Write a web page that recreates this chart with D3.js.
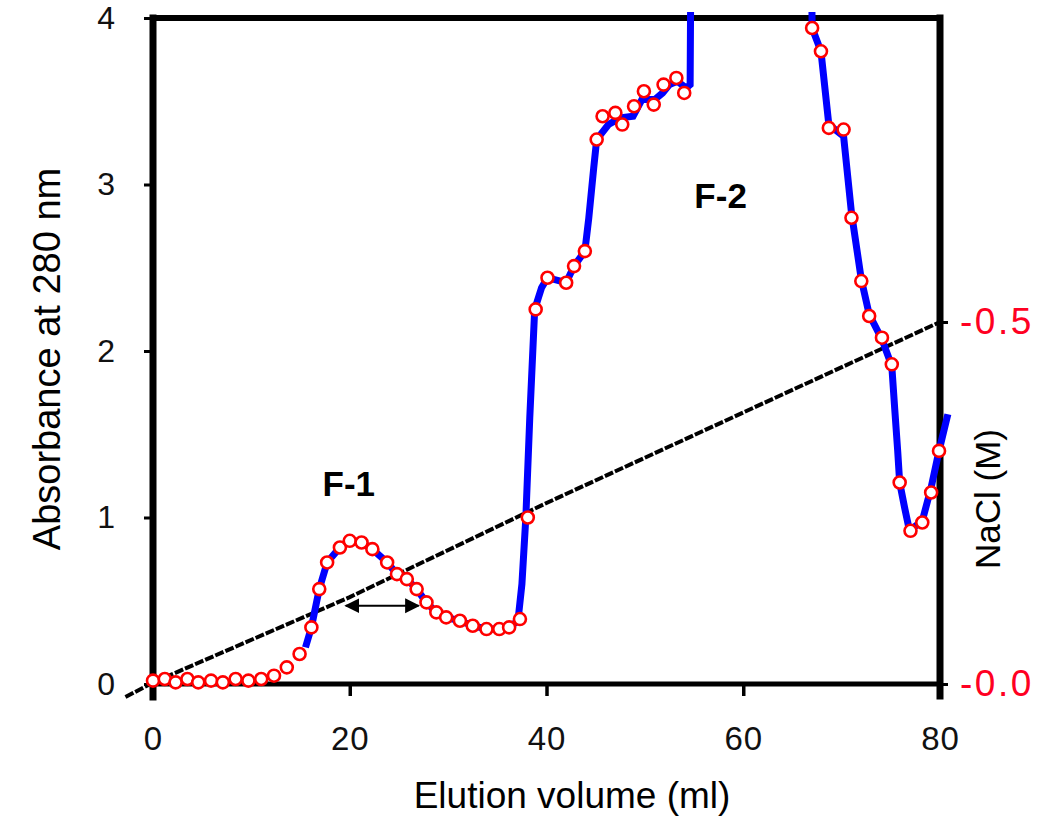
<!DOCTYPE html>
<html>
<head>
<meta charset="utf-8">
<script src="https://cdn.jsdelivr.net/npm/d3@7"></script>
<style>
  html, body { margin: 0; padding: 0; background: #fff; }
  svg { display: block; font-family: "Liberation Sans", Arial, sans-serif; }
</style>
</head>
<body>
<svg id="chart" width="1044" height="818"></svg>
<script>
// ---- data ----
const xTicks = [0, 20, 40, 60, 80];
const yTicks = [0, 1, 2, 3, 4];
const naclTicks = [0, 0.5];
const naclTickLabels = ["-0.0", "-0.5"];

// red circle markers: elution volume (ml) and absorbance
const circleVol = [0.0, 1.2, 2.3, 3.5, 4.6, 5.9, 7.1, 8.4, 9.7, 11.0, 12.3, 13.6, 14.9,
  16.1, 16.9, 17.7, 19.0, 20.0, 21.2, 22.3, 23.8, 24.8, 25.8, 26.8, 27.8, 28.8, 29.8,
  31.2, 32.5, 33.9, 35.2, 36.2, 37.3, 38.1, 38.9, 40.1, 42.0, 42.8, 43.9, 45.1, 45.7,
  47.0, 47.7, 48.9, 49.9, 50.9, 51.9, 53.2, 54.0,
  67.0, 67.9, 68.7, 70.2, 71.0, 72.0, 72.8, 74.1, 75.1, 75.9, 77.0, 78.2, 79.1, 79.9];
const circleAbs = [0.02, 0.03, 0.01, 0.03, 0.01, 0.02, 0.01, 0.03, 0.02, 0.03, 0.05, 0.10, 0.18,
  0.34, 0.57, 0.73, 0.82, 0.86, 0.85, 0.81, 0.73, 0.66, 0.63, 0.57, 0.49, 0.43, 0.40,
  0.38, 0.35, 0.33, 0.33, 0.34, 0.39, 1.00, 2.25, 2.44, 2.41, 2.51, 2.60, 3.27, 3.41,
  3.43, 3.36, 3.47, 3.56, 3.48, 3.60, 3.64, 3.55,
  3.94, 3.80, 3.34, 3.33, 2.80, 2.42, 2.21, 2.08, 1.92, 1.21, 0.92, 0.97, 1.15, 1.40];

// blue absorbance trace (values above 4 run off the top of the frame)
const lineVol = [15.5, 16.1, 16.9, 17.7, 19.0, 20.0, 21.2, 22.3, 23.8, 24.8, 25.8, 26.8,
  27.8, 28.8, 29.8, 31.2, 32.5, 33.9, 35.2, 36.2, 37.1, 37.5, 37.9, 38.3, 38.8, 39.5,
  40.1, 42.0, 42.8, 43.9, 44.3, 44.8, 45.1, 46.3, 47.5, 48.8, 49.7, 51.0, 51.8, 52.5,
  53.3, 54.2, 54.6, 54.7, 66.9, 67.0, 67.9, 68.7, 70.2, 71.0, 72.0, 72.8, 74.1, 75.1,
  75.4, 75.7, 75.9, 76.4, 76.9, 78.2, 79.1, 79.9, 80.8];
const lineAbs = [0.22, 0.34, 0.57, 0.73, 0.82, 0.86, 0.85, 0.81, 0.73, 0.66, 0.63, 0.57,
  0.49, 0.43, 0.40, 0.38, 0.35, 0.33, 0.33, 0.34, 0.38, 0.60, 1.00, 1.60, 2.25, 2.38,
  2.44, 2.41, 2.51, 2.60, 2.80, 3.10, 3.27, 3.36, 3.40, 3.41, 3.51, 3.51, 3.55, 3.60,
  3.62, 3.58, 3.60, 4.60, 4.60, 3.94, 3.80, 3.36, 3.29, 2.83, 2.43, 2.22, 2.07, 1.91,
  1.65, 1.40, 1.21, 1.06, 0.92, 0.98, 1.18, 1.40, 1.62];

// NaCl gradient (M)
const naclVol = [-2.8, 0, 20, 40, 60, 80];
const naclConc = [-0.018, 0.002, 0.12, 0.25, 0.375, 0.5];

// annotations
const arrowVol = [19.6, 27.0];
const arrowAbs = 0.47;
const peakLabels = ["F-1", "F-2"];
const peakLabelVol = [19.9, 57.7];
const peakLabelAbs = [1.13, 2.86];

// ---- scales ----
const x = d3.scaleLinear().domain([0, 80]).range([153, 940]);
const y = d3.scaleLinear().domain([0, 4]).range([684, 18]);
const yR = d3.scaleLinear().domain([0, 0.5]).range([684, 322]);

const svg = d3.select("#chart");
const FONT = "'Liberation Sans', Arial, sans-serif";

// clip for off-scale trace
const defs = svg.append("defs");
defs.append("clipPath").attr("id", "clipTop")
  .append("rect").attr("x", 0).attr("y", y(4) - 6).attr("width", 1044).attr("height", 818);

// arrow markers
["arrEnd", "arrStart"].forEach((id, i) => {
  defs.append("marker").attr("id", id)
    .attr("viewBox", "0 0 10 10").attr("refX", i === 0 ? 9 : 1).attr("refY", 5)
    .attr("markerWidth", 7.5).attr("markerHeight", 8).attr("markerUnits", "strokeWidth")
    .attr("orient", "auto")
    .append("path")
    .attr("d", i === 0 ? "M0,0 L10,5 L0,10 Z" : "M10,0 L0,5 L10,10 Z")
    .attr("fill", "#000");
});

// ---- axes ----
const axisL = d3.axisLeft(y).tickValues(yTicks).tickSize(9).tickSizeOuter(0).tickPadding(29)
  .tickFormat(d3.format("d"));
const gL = svg.append("g").attr("transform", `translate(${x(0)},0)`).call(axisL);
gL.select(".domain").remove();
gL.selectAll(".tick line").attr("stroke", "#000").attr("stroke-width", 3);
gL.selectAll(".tick text").attr("font-size", 32).attr("fill", "#111").attr("font-family", FONT);

const axisB = d3.axisBottom(x).tickValues(xTicks).tickSize(12).tickSizeOuter(0).tickPadding(31)
  .tickFormat(d3.format("d"));
const gB = svg.append("g").attr("transform", `translate(0,${y(0)})`).call(axisB);
gB.select(".domain").remove();
gB.selectAll(".tick line").attr("stroke", "#000").attr("stroke-width", 3.5);
gB.selectAll(".tick text").attr("font-size", 33).attr("fill", "#111").attr("font-family", FONT)
  .attr("letter-spacing", 1);

const axisR = d3.axisRight(yR).tickValues(naclTicks).tickSize(8).tickSizeOuter(0).tickPadding(12)
  .tickFormat((d, i) => naclTickLabels[i]);
const gR = svg.append("g").attr("transform", `translate(${x(80)},0)`).call(axisR);
gR.select(".domain").remove();
gR.selectAll(".tick line").attr("stroke", "#000").attr("stroke-width", 3);
gR.selectAll(".tick text").attr("font-size", 37).attr("fill", "#ff0022").attr("font-family", FONT)
  .attr("letter-spacing", 2.5);

// frame lines
const frame = svg.append("g").attr("stroke", "#000").attr("stroke-linecap", "square");
frame.append("line").attr("x1", x(0)).attr("x2", x(0)).attr("y1", y(4)).attr("y2", y(0) + 13).attr("stroke-width", 7);
frame.append("line").attr("x1", x(80)).attr("x2", x(80)).attr("y1", y(4)).attr("y2", y(0) + 12).attr("stroke-width", 7);
frame.append("line").attr("x1", x(0)).attr("x2", x(80)).attr("y1", y(4)).attr("y2", y(4)).attr("stroke-width", 6);
frame.append("line").attr("x1", x(0)).attr("x2", x(80)).attr("y1", y(0)).attr("y2", y(0)).attr("stroke-width", 5);

// ---- NaCl gradient line ----
const naclPts = naclVol.map((v, i) => [v, naclConc[i]]);
svg.append("path").datum(naclPts)
  .attr("d", d3.line().x(d => x(d[0])).y(d => yR(d[1])))
  .attr("fill", "none").attr("stroke", "#000").attr("stroke-width", 4)
  .attr("stroke-dasharray", "9,2");

// ---- absorbance trace ----
const linePts = lineVol.map((v, i) => [v, lineAbs[i]]);
svg.append("path").datum(linePts)
  .attr("clip-path", "url(#clipTop)")
  .attr("d", d3.line().x(d => x(d[0])).y(d => y(d[1])))
  .attr("fill", "none").attr("stroke", "#0000ff").attr("stroke-width", 7)
  .attr("stroke-linejoin", "miter");

const circPts = circleVol.map((v, i) => [v, circleAbs[i]]);
svg.append("g").selectAll("circle").data(circPts).join("circle")
  .attr("cx", d => x(d[0])).attr("cy", d => y(d[1])).attr("r", 6)
  .attr("fill", "#fff").attr("stroke", "#ff0000").attr("stroke-width", 2.6);

// ---- double arrow ----
svg.append("line")
  .attr("x1", x(arrowVol[0])).attr("x2", x(arrowVol[1]))
  .attr("y1", y(arrowAbs)).attr("y2", y(arrowAbs))
  .attr("stroke", "#000").attr("stroke-width", 2)
  .attr("marker-start", "url(#arrStart)").attr("marker-end", "url(#arrEnd)");

// ---- peak labels ----
svg.append("g").selectAll("text").data(peakLabels).join("text")
  .attr("x", (d, i) => x(peakLabelVol[i])).attr("y", (d, i) => y(peakLabelAbs[i]))
  .attr("text-anchor", "middle").attr("font-weight", "bold").attr("font-size", 35)
  .attr("fill", "#000").text(d => d);

// ---- axis titles ----
svg.append("text").attr("x", 572).attr("y", 808).attr("text-anchor", "middle")
  .attr("font-size", 37).attr("fill", "#000").text("Elution volume (ml)");
svg.append("text").attr("transform", "translate(60,359) rotate(-90)").attr("text-anchor", "middle")
  .attr("font-size", 38).attr("fill", "#000").text("Absorbance at 280 nm");
svg.append("text").attr("transform", "translate(1000,499) rotate(-90)").attr("text-anchor", "middle")
  .attr("font-size", 35).attr("fill", "#000").text("NaCl (M)");
</script>
</body>
</html>
